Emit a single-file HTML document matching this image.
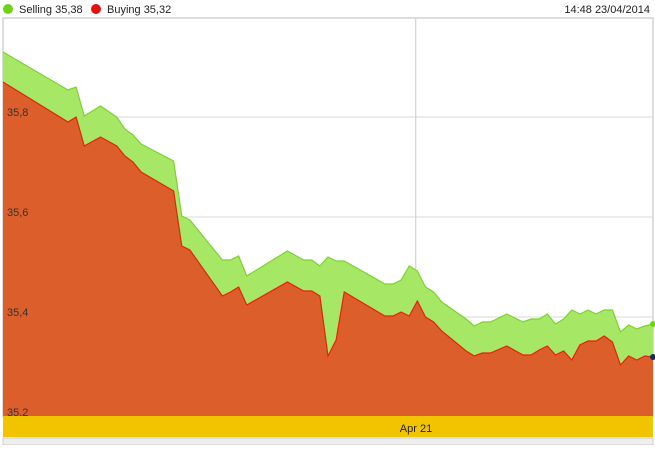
<!DOCTYPE html>
<html><head><meta charset="utf-8"><style>
body{margin:0;width:655px;height:445px;overflow:hidden;background:#fff;font-family:"Liberation Sans",sans-serif}
</style></head><body>
<svg id="c" width="655" height="445" xmlns="http://www.w3.org/2000/svg" font-family="Liberation Sans, sans-serif">
<g>
<circle cx="8" cy="9" r="5" fill="#6dd415"/>
<text x="19" y="13" font-size="11" fill="#222">Selling 35,38</text>
<circle cx="96" cy="9" r="5" fill="#e8100c"/>
<text x="107" y="13" font-size="11" fill="#222">Buying 35,32</text>
<text x="650" y="13" font-size="11" fill="#222" text-anchor="end">14:48 23/04/2014</text>
</g>
<rect x="3" y="18" width="650" height="399" fill="#fff" stroke="#bbb"/>
<g id="grid"></g>
<g id="series"></g>
<g id="labels"></g>
<rect x="3" y="416" width="650" height="21" fill="#f2c400"/>
<text x="416" y="432" font-size="11" fill="#222" text-anchor="middle">Apr 21</text>
<rect x="3" y="438" width="650" height="7" fill="#eee" stroke="#ccc"/>
</svg>
<script>
const idx=[0,8,9,10,12,14,15,16,17,21,22,23,27,28,29,30,35,37,38,39,40,41,42,47,48,49,50,51,52,53,54,57,58,59,60,62,64,65,66,67,68,69,70,71,72,73,74,75,76,77,78,79,80];
const selling=[35.93,35.854,35.86,35.802,35.822,35.80,35.776,35.764,35.746,35.712,35.602,35.594,35.514,35.514,35.522,35.482,35.532,35.514,35.514,35.502,35.52,35.512,35.512,35.466,35.466,35.474,35.502,35.492,35.46,35.45,35.43,35.396,35.382,35.39,35.39,35.406,35.39,35.396,35.396,35.406,35.386,35.396,35.414,35.406,35.414,35.406,35.414,35.414,35.37,35.384,35.376,35.382,35.386];
const buying=[35.87,35.79,35.80,35.742,35.76,35.742,35.722,35.71,35.69,35.652,35.542,35.534,35.442,35.45,35.46,35.424,35.47,35.452,35.452,35.442,35.322,35.354,35.45,35.402,35.402,35.41,35.402,35.432,35.40,35.39,35.372,35.332,35.322,35.328,35.328,35.342,35.324,35.324,35.334,35.342,35.324,35.332,35.314,35.344,35.352,35.352,35.362,35.35,35.304,35.322,35.314,35.322,35.32];
const yTicks=[35.8,35.6,35.4,35.2];
const yTickLabels=["35,8","35,6","35,4","35,2"];
const xTickIdx=[50.8];
const NS="http://www.w3.org/2000/svg";
const X=i=>3+i*650/80;
const Y=v=>117+(35.8-v)*500;
function mk(t,a,p){const e=document.createElementNS(NS,t);for(const k in a)e.setAttribute(k,a[k]);p.appendChild(e);return e;}
const grid=document.getElementById('grid'),ser=document.getElementById('series'),lab=document.getElementById('labels');
yTicks.forEach((v,i)=>{
 const l=mk('line',{x1:3,x2:653,y1:Y(v),y2:Y(v),stroke:'#d8d8d8'},grid);
 
 
 const t=mk('text',{x:7,y:Y(v)-1,'font-size':11,fill:'#333'},lab);t.textContent=yTickLabels[i];
 
 
});
xTickIdx.forEach(i=>{
 const l=mk('line',{x1:X(i),x2:X(i),y1:18,y2:416,stroke:'#ccc'},grid);
 
 
});
function area(vals,fill,stroke,name){
 let d=idx.map((i,k)=>(k?'L':'M')+X(i)+','+Y(vals[k])).join('');
 const a=mk('path',{d:d+'L'+X(idx[idx.length-1])+',416L'+X(idx[0])+',416Z',fill:fill},ser);
 
 
 const l=mk('path',{d:d,fill:'none',stroke:stroke,'stroke-width':1.2},ser);
 
 
}
area(selling,'#a6e865','#7bd42a','selling');
area(buying,'#dc5f2b','#e8200c','buying');
const n=idx.length-1;
const d1=mk('circle',{cx:X(idx[n]),cy:Y(selling[n]),r:3,fill:'#6dd415'},ser);


const d2=mk('circle',{cx:X(idx[n]),cy:Y(buying[n]),r:3,fill:'#1a2d55'},ser);


</script>
</body></html>
